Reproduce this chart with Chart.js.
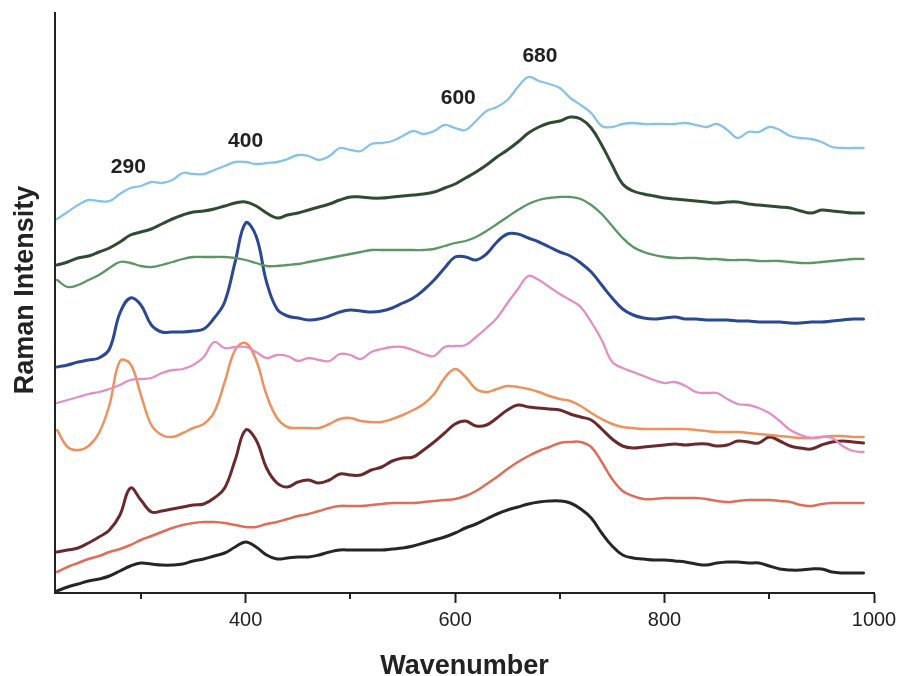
<!DOCTYPE html>
<html>
<head>
<meta charset="utf-8">
<script src="https://cdn.jsdelivr.net/npm/chart.js@4/dist/chart.umd.min.js"></script>
<style>
  html, body { margin: 0; padding: 0; background: #fff; }
  canvas { display: block; }
</style>
</head>
<body>
<canvas id="raman" width="903" height="676"></canvas>
<script>
// wavenumber grid (cm-1)
const wavenumber = [220,230,240,250,260,270,280,290,300,310,320,330,340,350,360,370,380,390,400,410,
  420,430,440,450,460,470,480,490,500,510,520,530,540,550,560,570,580,590,600,610,
  620,630,640,650,660,670,680,690,700,710,720,730,740,750,760,770,780,790,800,810,
  820,830,840,850,860,870,880,890,900,910,920,930,940,950,960,970,980,990];

// stacked spectra, top to bottom (offset intensity, arbitrary units)
const skyBlue = [374,381,388,393,392,392,399,405,407,411,410,413,420,419,419,423,427,431,431,429,
  430,431,434,438,437,433,437,445,443,442,449,450,452,457,462,459,462,468,465,463,
  472,482,486,493,506,516,512,509,505,495,488,480,467,466,469,470,469,469,469,469,
  470,468,466,469,463,455,461,461,466,463,457,455,454,451,446,445,445,445];
const darkGreen = [328,331,335,337,341,345,351,358,361,364,369,374,378,381,382,384,387,390,391,387,
  380,375,378,380,383,386,389,393,396,396,395,395,396,397,398,399,401,405,409,415,
  421,428,436,443,451,460,466,470,472,476,474,465,448,428,409,402,399,397,395,394,
  393,392,391,390,391,391,389,388,387,386,385,382,380,383,382,381,380,380];
const midGreen = [313,306,308,313,318,325,331,330,327,326,328,331,334,336,336,336,336,335,333,330,
  327,327,328,329,331,333,335,337,339,341,343,343,343,343,343,343,344,347,350,352,
  356,362,369,376,383,389,393,395,396,396,394,388,379,367,355,346,341,338,336,335,
  335,335,334,334,333,333,333,332,332,332,331,330,330,331,332,333,334,334];
const blue = [226,228,231,233,235,244,280,295,288,268,261,261,261,262,264,275,291,331,370,357,
  311,284,277,275,273,274,277,281,283,282,281,282,285,290,295,303,313,325,336,336,
  333,339,351,359,359,355,351,346,341,337,330,321,308,295,284,278,275,274,275,276,
  274,274,273,273,273,272,272,271,271,271,270,270,271,271,272,273,274,274];
const pink = [190,193,196,199,201,204,208,213,214,215,220,223,224,228,236,251,245,246,246,241,
  235,238,237,232,235,233,232,239,238,234,241,244,246,246,243,239,237,246,247,248,
  256,265,275,290,304,317,313,306,299,293,286,271,253,231,225,221,217,213,210,211,
  207,201,200,200,194,189,188,185,180,172,163,158,155,156,155,147,142,141];
const orange = [163,146,143,147,160,188,232,229,198,168,158,156,160,165,169,181,211,243,250,233,
  198,175,166,165,165,165,169,174,175,172,171,171,174,178,183,189,199,215,224,216,
  204,201,204,207,206,204,201,197,194,192,187,180,174,169,166,165,164,164,164,164,
  164,163,162,161,161,161,160,159,158,157,156,155,155,156,157,157,156,156];
const maroon = [41,43,45,50,56,63,78,105,93,81,82,84,86,88,89,95,105,133,163,153,
  125,110,106,111,113,110,113,119,118,118,123,126,132,135,136,143,151,160,169,172,
  167,168,175,183,188,186,185,184,183,179,176,173,164,154,147,145,146,147,148,149,
  148,149,149,147,148,152,151,150,156,152,147,145,144,148,151,152,151,150];
const coral = [21,26,30,34,37,41,44,48,53,57,61,65,68,70,71,71,70,68,66,66,
  69,71,74,77,79,82,85,87,87,87,88,89,90,90,90,91,92,93,94,97,
  102,109,116,124,131,137,142,146,150,151,151,146,131,114,102,97,94,94,95,95,
  95,95,94,92,91,92,93,93,93,92,91,88,87,89,90,90,90,90];
const black = [2,6,9,12,14,17,22,27,30,29,28,28,29,32,34,37,40,46,51,46,
  38,34,35,36,36,38,41,43,43,43,43,43,44,45,47,50,53,56,60,65,
  69,74,79,83,86,89,91,92,92,90,84,75,60,47,38,35,34,33,33,32,
  31,29,28,30,31,31,30,30,27,24,23,23,24,24,21,20,20,20];

// peak annotations
const peakLabels = ['290', '400', '600', '680'];
const peakX = [288, 400, 603, 681];
const peakY = [426, 452, 495, 537];

const FONT = "'Liberation Sans', Arial, Helvetica, sans-serif";

function series(vals) {
  return wavenumber.map((w, i) => ({ x: w, y: vals[i] }));
}

const spectra = [
  { data: skyBlue, color: '#86c3e8', width: 2.3 },
  { data: darkGreen, color: '#2f4b32', width: 3 },
  { data: midGreen, color: '#5c9664', width: 2.3 },
  { data: blue, color: '#2b4894', width: 3 },
  { data: pink, color: '#e48fc3', width: 2.3 },
  { data: orange, color: '#ec925f', width: 2.5 },
  { data: maroon, color: '#6a2a2d', width: 3 },
  { data: coral, color: '#df6d58', width: 2.5 },
  { data: black, color: '#262626', width: 3 }
];

const overlay = {
  id: 'overlay',
  afterDraw(chart) {
    const ctx = chart.ctx;
    const xs = chart.scales.x, ys = chart.scales.y;
    ctx.save();
    // minor ticks
    ctx.strokeStyle = '#222';
    ctx.lineWidth = 2;
    xs.ticks.forEach(t => {
      if (t.value % 200 !== 0) {
        const px = Math.round(xs.getPixelForValue(t.value));
        ctx.beginPath();
        ctx.moveTo(px, xs.top);
        ctx.lineTo(px, xs.top + 6);
        ctx.stroke();
      }
    });
    // peak labels
    ctx.fillStyle = '#222';
    ctx.font = 'bold 21px ' + FONT;
    ctx.textAlign = 'center';
    ctx.textBaseline = 'middle';
    peakLabels.forEach((lab, i) => {
      ctx.fillText(lab, xs.getPixelForValue(peakX[i]), ys.getPixelForValue(peakY[i]));
    });
    // axis titles
    ctx.font = 'bold 27px ' + FONT;
    ctx.textBaseline = 'alphabetic';
    ctx.fillText('Wavenumber', (chart.chartArea.left + chart.chartArea.right) / 2, 674);
    ctx.translate(33, 290);
    ctx.rotate(-Math.PI / 2);
    ctx.fillText('Raman Intensity', 0, 0);
    ctx.restore();
  }
};

new Chart(document.getElementById('raman'), {
  type: 'line',
  data: {
    datasets: spectra.map(s => ({
      data: series(s.data),
      borderColor: s.color,
      borderWidth: s.width,
      pointRadius: 0,
      fill: false,
      tension: 0.4,
      borderJoinStyle: 'round',
      borderCapStyle: 'round'
    }))
  },
  options: {
    responsive: false,
    animation: false,
    layout: { padding: { top: 13, right: 29, left: 0, bottom: 0 } },
    plugins: { legend: { display: false }, tooltip: { enabled: false } },
    scales: {
      x: {
        type: 'linear',
        min: 218,
        max: 1000,
        afterFit(s) { s.height = 83; },
        border: { color: '#222', width: 2 },
        grid: {
          drawOnChartArea: false,
          tickLength: 10,
          tickWidth: 2,
          tickColor: c => (c.tick && c.tick.value % 200 === 0) ? '#222' : 'rgba(0,0,0,0)'
        },
        ticks: {
          stepSize: 100,
          includeBounds: false,
          maxRotation: 0,
          autoSkip: false,
          padding: 5,
          color: '#222',
          font: { size: 20, family: FONT },
          callback: v => (v % 200 === 0 ? String(v) : '')
        }
      },
      y: {
        min: 0,
        max: 580,
        afterFit(s) { s.width = 55; },
        border: { color: '#222', width: 2 },
        grid: { drawOnChartArea: false, drawTicks: false },
        ticks: { display: false }
      }
    }
  },
  plugins: [overlay]
});
</script>
</body>
</html>
